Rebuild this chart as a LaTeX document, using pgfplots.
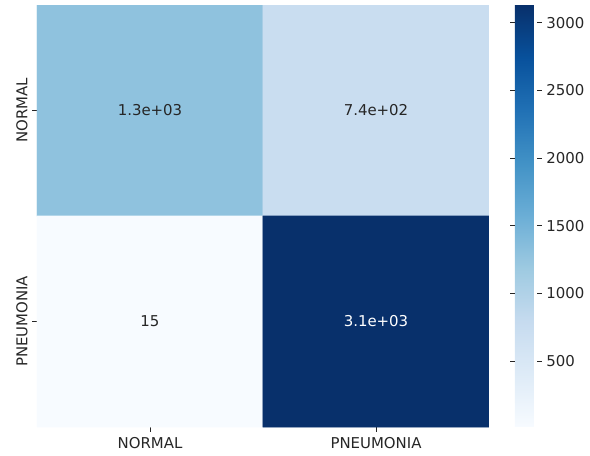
\documentclass[border=0pt]{standalone}
\usepackage{fontspec}
\setmainfont{DejaVu Sans}
\usepackage{pgfplots}
\pgfplotsset{compat=1.18}
\definecolor{txt}{HTML}{262626}
\begin{document}
\begin{tikzpicture}[x=1pt,y=1pt]
\def\px{0.75}
\begin{axis}[
  at={(0,0)}, anchor=south west,
  scale only axis,
  width=339pt, height=316.5pt,
  xmin=-0.5, xmax=1.5, ymin=-0.5, ymax=1.5,
  y dir=reverse,
  axis line style={draw=none},
  xtick={0,1}, xticklabels={NORMAL,PNEUMONIA},
  ytick={0,1}, yticklabels={NORMAL,PNEUMONIA},
  yticklabel style={rotate=90, anchor=south},
  tick align=outside, xtick pos=bottom, ytick pos=left,
  major tick length=3.6pt,
  tick style={txt, line width=0.6pt},
  ticklabel style={font=\fontsize{11.2}{13}\selectfont, text=txt},
  xticklabel style={yshift=-1pt},
  /pgf/number format/assume math mode=true,
  colormap={blues}{rgb255=(247,251,255) rgb255=(222,235,247) rgb255=(198,219,239) rgb255=(158,202,225) rgb255=(107,174,214) rgb255=(66,146,198) rgb255=(33,113,181) rgb255=(8,81,156) rgb255=(8,48,107)},
  point meta min=15, point meta max=3130,
  colorbar,
  colorbar style={
    at={(1.0575,1)}, anchor=north west,
    width=16.5pt, height=316.5pt,
    axis line style={draw=none},
    ytick={500,1000,1500,2000,2500,3000},
    yticklabel pos=right,
    tick align=outside,
    major tick length=3.6pt,
    tick style={txt, line width=0.6pt},
    yticklabel style={font=\fontsize{11.2}{13}\selectfont, text=txt, /pgf/number format/.cd, fixed, 1000 sep={}, assume math mode=true},
  },
]
\addplot[matrix plot*, mesh/cols=2, point meta=explicit] table[meta=c] {
x y c
0 0 1300
1 0 740
0 1 15
1 1 3130
};
\addplot[only marks, mark=none, point meta=explicit symbolic,
  nodes near coords, nodes near coords align=center,
  nodes near coords style={font=\fontsize{11.2}{13}\selectfont, text=txt}]
  table[meta=l] {
x y l
0 0 1.3e+03
1 0 7.4e+02
0 1 15
};
\addplot[only marks, mark=none, point meta=explicit symbolic,
  nodes near coords, nodes near coords align=center,
  nodes near coords style={font=\fontsize{11.2}{13}\selectfont, text=white}]
  table[meta=l] {
x y l
1 1 3.1e+03
};
\end{axis}
\path[use as bounding box] (-37*\px,-29*\px) rectangle (553*\px,427*\px);
\end{tikzpicture}
\end{document}
